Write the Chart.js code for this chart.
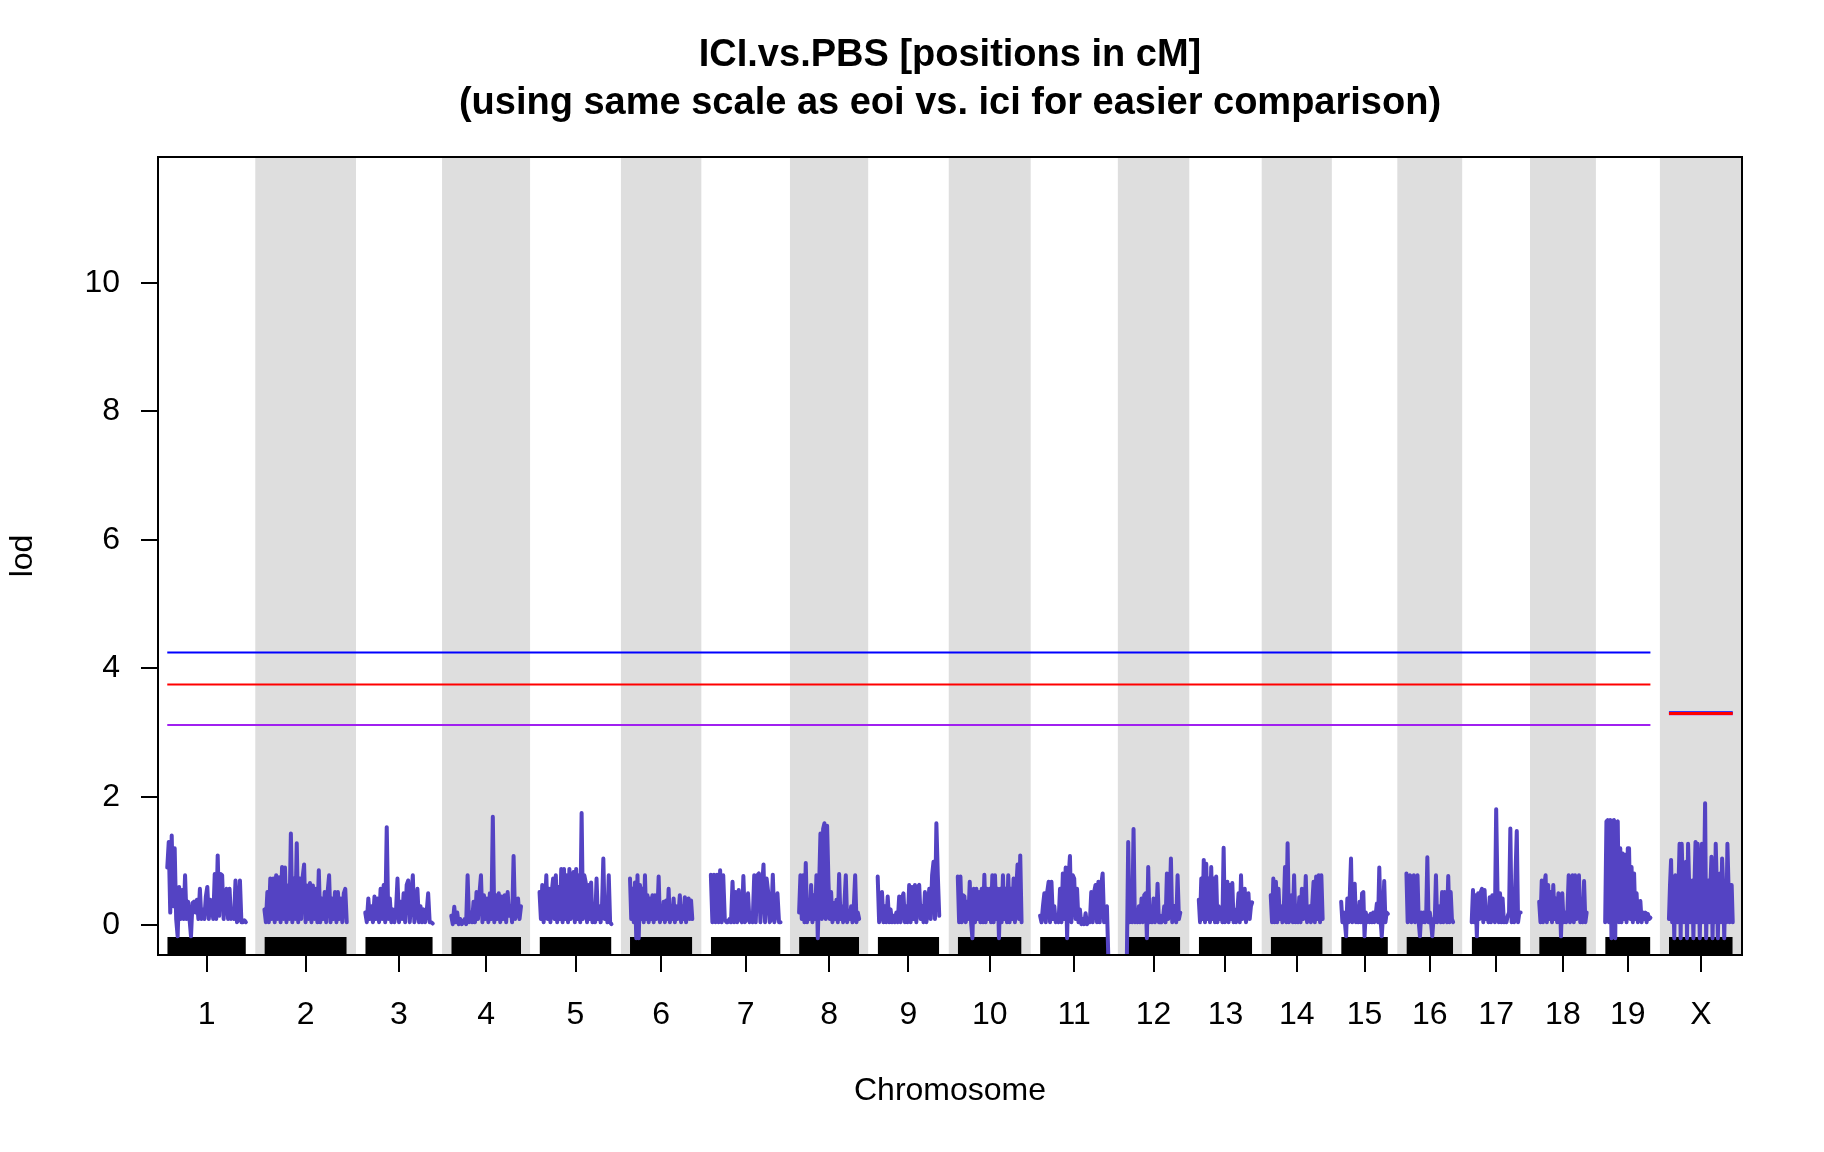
<!DOCTYPE html>
<html>
<head>
<meta charset="utf-8">
<script src="https://cdn.jsdelivr.net/npm/chart.js@4.4.0/dist/chart.umd.min.js"></script>
<style>
  html, body { margin: 0; padding: 0; background: #fff; }
  canvas { display: block; }
</style>
</head>
<body>
<canvas id="lod-chart" width="1824" height="1152" style="width:1824px;height:1152px"></canvas>
<script>
// chromosomes and their map lengths (cM)
var chrNames = ['1','2','3','4','5','6','7','8','9','10','11','12','13','14','15','16','17','18','19','X'];
var chrLengths = [106, 111, 91, 94, 97, 84, 94, 81, 83, 86, 92, 72, 72, 70, 63, 63, 66, 64, 61, 86];

// lod scores along each chromosome (read left to right, evenly spaced)
var lodChr1 = [0.9, 1.3, 0.2, 1.4, 0.3, 1.2, 0.1, -0.17, 0.6, 0.1, 0.55, 0.1, 0.78, 0.1, 0.37, 0.1, -0.17, 0.35, 0.37, 0.2, 0.4, 0.1, 0.57, 0.1, 0.25, 0.1, 0.45, 0.6, 0.1, 0.4, 0.3, 0.1, 0.8, 0.1, 1.09, 0.15, 0.8, 0.78, 0.1, 0.5, 0.57, 0.1, 0.57, 0.1, 0.15, 0.1, 0.7, 0.05, 0.1, 0.7, 0.05, 0.05, 0.08, 0.05];
var lodChr2 = [0.25, 0.05, 0.52, 0.05, 0.73, 0.1, 0.73, 0.05, 0.78, 0.1, 0.75, 0.05, 0.91, 0.1, 0.9, 0.05, 0.62, 0.1, 1.43, 0.05, 0.73, 0.1, 1.28, 0.05, 0.73, 0.1, 0.75, 0.95, 0.05, 0.62, 0.1, 0.66, 0.05, 0.62, 0.1, 0.57, 0.05, 0.86, 0.05, 0.42, 0.1, 0.52, 0.05, 0.52, 0.78, 0.05, 0.42, 0.1, 0.52, 0.05, 0.52, 0.1, 0.42, 0.05, 0.5, 0.57, 0.05];
var lodChr3 = [0.2, 0.05, 0.42, 0.1, 0.3, 0.05, 0.45, 0.1, 0.42, 0.05, 0.57, 0.1, 0.63, 0.05, 1.53, 0.1, 0.42, 0.05, 0.25, 0.05, 0.2, 0.73, 0.05, 0.37, 0.1, 0.5, 0.05, 0.63, 0.7, 0.05, 0.42, 0.78, 0.05, 0.2, 0.57, 0.05, 0.3, 0.05, 0.25, 0.05, 0.2, 0.5, 0.05, 0.05, 0.03];
var lodChr4 = [0.15, 0.02, 0.29, 0.05, 0.2, 0.02, 0.1, 0.02, 0.05, 0.1, 0.02, 0.78, 0.05, 0.2, 0.05, 0.37, 0.05, 0.52, 0.1, 0.5, 0.78, 0.05, 0.47, 0.1, 0.42, 0.05, 0.5, 0.1, 1.69, 0.05, 0.47, 0.1, 0.5, 0.05, 0.45, 0.1, 0.47, 0.05, 0.52, 0.15, 0.3, 0.05, 1.08, 0.1, 0.2, 0.42, 0.1, 0.3];
var lodChr5 = [0.52, 0.1, 0.63, 0.05, 0.3, 0.78, 0.1, 0.57, 0.05, 0.52, 0.73, 0.1, 0.78, 0.05, 0.6, 0.1, 0.88, 0.05, 0.88, 0.1, 0.78, 0.05, 0.88, 0.1, 0.57, 0.83, 0.05, 0.88, 0.1, 0.78, 0.05, 1.75, 0.1, 0.78, 0.67, 0.05, 0.63, 0.1, 0.67, 0.05, 0.3, 0.05, 0.73, 0.1, 0.3, 0.05, 0.28, 1.04, 0.1, 0.3, 0.05, 0.78, 0.05, 0.02];
var lodChr6 = [0.73, 0.1, 0.57, 0.05, 0.67, -0.2, 0.78, -0.2, 0.63, 0.1, 0.57, 0.05, 0.78, 0.1, 0.47, 0.05, 0.42, 0.1, 0.47, 0.05, 0.47, 0.1, 0.2, 0.76, 0.05, 0.3, 0.1, 0.37, 0.05, 0.39, 0.1, 0.57, 0.05, 0.3, 0.1, 0.42, 0.05, 0.3, 0.1, 0.2, 0.47, 0.05, 0.3, 0.1, 0.44, 0.05, 0.3, 0.42, 0.1, 0.39, 0.1];
var lodChr7 = [0.79, 0.05, 0.79, 0.05, 0.79, 0.05, 0.86, 0.05, 0.78, 0.1, 0.05, 0.05, 0.1, 0.05, 0.68, 0.05, 0.52, 0.05, 0.55, 0.1, 0.05, 0.77, 0.05, 0.1, 0.5, 0.05, 0.1, 0.05, 0.78, 0.05, 0.78, 0.81, 0.05, 0.57, 0.95, 0.05, 0.73, 0.52, 0.05, 0.1, 0.79, 0.05, 0.2, 0.5, 0.05, 0.05];
var lodChr8 = [0.2, 0.78, 0.1, 0.78, 0.05, 0.97, 0.05, 0.35, 0.1, 0.63, 0.05, 0.47, 0.1, 0.78, -0.2, 0.6, 1.43, 0.1, 1.5, 1.59, 0.1, 1.55, 0.68, 0.1, 0.52, 0.05, 0.35, 0.1, 0.4, 0.05, 0.8, 0.1, 0.3, 0.05, 0.35, 0.78, 0.05, 0.2, 0.1, 0.3, 0.05, 0.3, 0.78, 0.05, 0.2, 0.1];
var lodChr9 = [0.76, 0.05, 0.25, 0.52, 0.05, 0.3, 0.05, 0.45, 0.05, 0.25, 0.05, 0.15, 0.05, 0.2, 0.05, 0.45, 0.05, 0.42, 0.5, 0.05, 0.3, 0.05, 0.63, 0.05, 0.6, 0.1, 0.63, 0.05, 0.6, 0.63, 0.1, 0.3, 0.05, 0.52, 0.05, 0.2, 0.57, 0.1, 0.78, 0.99, 0.1, 1.59, 0.78, 0.15];
var lodChr10 = [0.76, 0.05, 0.76, 0.05, 0.47, 0.45, 0.05, 0.37, 0.1, 0.68, 0.05, -0.2, 0.57, 0.05, 0.57, 0.1, 0.52, 0.05, 0.57, 0.05, 0.79, 0.05, 0.57, 0.1, 0.57, 0.05, 0.78, 0.05, 0.78, 0.1, 0.57, -0.2, 0.57, 0.05, 0.78, 0.1, 0.57, 0.05, 0.78, 0.05, 0.57, 0.1, 0.73, 0.05, 0.57, 0.95, 0.1, 1.09, 0.05];
var lodChr11 = [0.15, 0.05, 0.3, 0.5, 0.05, 0.52, 0.68, 0.05, 0.68, 0.1, 0.3, 0.05, 0.1, 0.05, 0.57, 0.05, 0.81, 0.1, 0.9, -0.2, 0.73, 1.08, 0.05, 0.78, 0.73, 0.1, 0.57, 0.05, 0.25, 0.02, 0.1, 0.02, 0.19, 0.02, 0.1, 0.05, 0.52, 0.05, 0.52, 0.63, 0.05, 0.68, 0.05, 0.63, 0.81, 0.05, 0.2, 0.3, -0.5];
var lodChr12 = [-0.5, 1.3, 0.05, 0.2, 0.05, 1.5, 0.05, 0.1, 0.05, 0.3, 0.05, 0.42, 0.05, 0.47, 0.5, -0.2, 0.91, 0.05, 0.3, 0.05, 0.42, 0.05, 0.1, 0.65, 0.05, 0.15, 0.05, 0.1, 0.3, 0.05, 0.81, 0.1, 0.3, 1.04, 0.05, 0.25, 0.3, 0.05, 0.78, 0.1, 0.2];
var lodChr13 = [0.4, 0.05, 0.73, 0.1, 1.02, 0.05, 0.96, 0.1, 0.73, 0.05, 0.91, 0.1, 0.73, 0.05, 0.76, 0.05, 0.3, 0.1, 0.2, 0.05, 1.21, 0.05, 0.3, 0.68, 0.05, 0.63, 0.1, 0.66, 0.05, 0.25, 0.05, 0.2, 0.5, 0.05, 0.78, 0.1, 0.3, 0.57, 0.05, 0.2, 0.5, 0.1, 0.3, 0.36];
var lodChr14 = [0.47, 0.05, 0.73, 0.05, 0.68, 0.05, 0.57, 0.1, 0.3, 0.05, 0.2, 0.91, 0.05, 1.28, 0.05, 0.2, 0.47, 0.05, 0.78, 0.05, 0.2, 0.05, 0.44, 0.05, 0.57, 0.1, 0.2, 0.77, 0.05, 0.2, 0.3, 0.05, 0.34, 0.68, 0.05, 0.76, 0.1, 0.78, 0.05, 0.78, 0.1];
var lodChr15 = [0.37, 0.05, 0.2, 0.05, -0.17, 0.42, 0.05, 0.47, 1.04, 0.05, 0.57, 0.65, 0.05, 0.3, 0.05, 0.37, 0.05, 0.5, 0.52, -0.17, 0.2, 0.05, 0.15, 0.05, 0.18, 0.05, 0.2, 0.05, 0.15, 0.34, 0.05, 0.9, 0.1, -0.17, 0.15, 0.69, 0.05, 0.2, 0.18];
var lodChr16 = [0.81, 0.05, 0.73, 0.78, 0.05, 0.1, 0.78, 0.05, 0.1, 0.78, 0.05, -0.17, 0.2, 0.05, 0.2, 0.05, 0.1, 1.06, 0.05, 0.2, 0.05, -0.17, 0.1, 0.05, 0.78, 0.05, 0.1, 0.3, 0.05, 0.52, 0.05, 0.52, 0.1, 0.05, 0.77, 0.05, 0.52, 0.1, 0.05];
var lodChr17 = [0.05, 0.55, 0.05, 0.47, -0.17, 0.5, 0.1, 0.52, 0.57, 0.05, 0.55, 0.1, 0.2, 0.05, 0.44, 0.05, 0.47, 0.42, 0.05, 1.81, 0.57, 0.05, 0.5, 0.05, 0.42, 0.05, 0.1, 0.05, 0.15, 0.2, 1.51, 0.05, 0.2, 0.05, 0.78, 1.47, 0.05, 0.2, 0.2];
var lodChr18 = [0.37, 0.05, 0.7, 0.05, 0.63, 0.78, 0.05, 0.63, 0.1, 0.52, 0.05, 0.63, 0.1, 0.42, 0.05, 0.5, 0.47, -0.17, 0.5, 0.05, 0.2, 0.05, 0.2, 0.78, 0.05, 0.1, 0.78, 0.05, 0.78, 0.1, 0.2, 0.78, 0.05, 0.1, 0.05, 0.69, 0.05, 0.2];
var lodChr19 = [0.05, 1.62, 1.64, 0.05, 1.64, -0.2, 1.63, 1.64, -0.2, 1.6, 1.62, 0.05, 1.2, 0.05, 1.12, 0.1, 1.1, 0.05, 1.2, 1.2, 0.1, 0.91, 0.05, 0.81, 0.1, 0.5, 0.05, 0.2, 0.38, 0.05, 0.2, 0.1, 0.2, 0.05, 0.18, 0.1, 0.12];
var lodChrX = [0.1, 0.63, 1.02, 0.05, 0.63, -0.2, 0.78, 0.63, 0.05, 0.63, 1.27, -0.2, 1.27, 0.63, 0.05, 0.63, 0.99, -0.2, 1.27, 0.63, 0.05, 0.63, 0.7, -0.2, 0.63, 1.3, 0.05, 1.27, 0.63, -0.2, 0.7, 1.27, 0.05, 0.63, 1.9, -0.2, 0.63, 0.7, 0.05, 0.63, 1.07, -0.2, 0.63, 0.05, 1.27, 0.63, -0.2, 0.63, 0.81, 0.05, 1.04, 0.63, -0.2, 0.63, 0.05, 1.27, 0.63, 0.05, 0.63, 0.63, 0.05];

var lodByChr = [lodChr1, lodChr2, lodChr3, lodChr4, lodChr5, lodChr6, lodChr7, lodChr8, lodChr9, lodChr10,
                lodChr11, lodChr12, lodChr13, lodChr14, lodChr15, lodChr16, lodChr17, lodChr18, lodChr19, lodChrX];

// significance thresholds: autosomes, then X
var thrAuto = [4.25, 3.75, 3.12];
var thrX = [3.315, 3.30, 3.29];
var thrColors = ['#0000ff', '#ff0000', '#a020f0'];

var yTicks = [0, 2, 4, 6, 8, 10];
var yMin = -0.46, yMax = 11.96;
var gap = 25;

var titleLines = ['ICI.vs.PBS [positions in cM]', '(using same scale as eoi vs. ici for easier comparison)'];
var curveColor = '#5443c3';
var bandColor = '#dedede';

// chromosome start positions on the x axis
var starts = [];
var pos = gap / 2;
for (var i = 0; i < chrLengths.length; i++) {
  starts.push(pos);
  pos += chrLengths[i] + gap;
}
var xMax = pos - gap / 2;
var centers = starts.map(function (s, i) { return s + chrLengths[i] / 2; });

var datasets = [];

// grey bands behind every other chromosome
for (var i = 1; i < chrNames.length; i += 2) {
  var a = starts[i] - gap / 2;
  var b = Math.min(starts[i] + chrLengths[i] + gap / 2, xMax);
  datasets.push({
    data: [{x: a, y: yMax}, {x: b, y: yMax}],
    fill: 'start', backgroundColor: bandColor, borderWidth: 0,
    pointRadius: 0, order: 10
  });
}

// marker rug along the bottom
for (var i = 0; i < chrNames.length; i++) {
  datasets.push({
    data: [{x: starts[i], y: -0.18}, {x: starts[i] + chrLengths[i], y: -0.18}],
    fill: 'start', backgroundColor: '#000', borderWidth: 0,
    pointRadius: 0, order: 6
  });
}

// lod curves
for (var i = 0; i < chrNames.length; i++) {
  var vals = lodByChr[i];
  var pts = vals.map(function (v, j) {
    return {x: starts[i] + chrLengths[i] * j / (vals.length - 1), y: v};
  });
  datasets.push({
    data: pts, borderColor: curveColor, borderWidth: 4,
    borderJoinStyle: 'round', borderCapStyle: 'round',
    pointRadius: 0, fill: false, tension: 0, order: 3, clip: 0
  });
}

// threshold lines (red drawn last on X, so it sits on top)
var autoEnd = starts[18] + chrLengths[18];
var xStart = starts[19], xEnd = starts[19] + chrLengths[19];
thrAuto.forEach(function (t, k) {
  datasets.push({
    data: [{x: starts[0], y: t}, {x: autoEnd, y: t}],
    borderColor: thrColors[k], borderWidth: 2, pointRadius: 0, fill: false, order: 1
  });
});
thrX.forEach(function (t, k) {
  datasets.push({
    data: [{x: xStart, y: t}, {x: xEnd, y: t}],
    borderColor: thrColors[k], borderWidth: k === 1 ? 3 : 2.5, pointRadius: 0, fill: false,
    order: k === 1 ? 0 : 1
  });
});

// frame around the plot region, and the title centred over it
var framePlugin = {
  id: 'frame',
  afterDraw: function (chart) {
    var c = chart.ctx, a = chart.chartArea;
    c.save();
    c.strokeStyle = '#000';
    c.lineWidth = 2;
    c.strokeRect(a.left, a.top, a.right - a.left, a.bottom - a.top);
    c.fillStyle = '#000';
    c.font = 'bold 38px "Liberation Sans", Arial, sans-serif';
    c.textAlign = 'center';
    c.textBaseline = 'middle';
    var cx = (a.left + a.right) / 2;
    c.fillText(titleLines[0], cx, 56);
    c.fillText(titleLines[1], cx, 104);
    c.restore();
  }
};

Chart.defaults.font.family = '"Liberation Sans", Arial, sans-serif';
Chart.defaults.color = '#000';

var ctx = document.getElementById('lod-chart').getContext('2d');
var chart = new Chart(ctx, {
  type: 'line',
  data: { datasets: datasets },
  plugins: [framePlugin],
  options: {
    responsive: false,
    devicePixelRatio: 1,
    animation: false,
    layout: { padding: { left: 0, right: 82, top: 157, bottom: 0 } },
    plugins: {
      legend: { display: false },
      tooltip: { enabled: false },
      title: { display: false }
    },
    scales: {
      x: {
        type: 'linear',
        min: 0,
        max: xMax,
        afterBuildTicks: function (scale) {
          scale.ticks = centers.map(function (c) { return {value: c}; });
        },
        afterFit: function (scale) { scale.height = 197; },
        ticks: {
          autoSkip: false, maxRotation: 0, padding: 24,
          font: { size: 32 },
          callback: function (v, idx) { return chrNames[idx]; }
        },
        grid: { drawOnChartArea: false, drawTicks: true, tickLength: 17, color: '#000', lineWidth: 2 },
        border: { display: true, color: '#000', width: 2 },
        title: { display: true, text: 'Chromosome', font: { size: 32 }, padding: { top: 0, bottom: 42 } }
      },
      y: {
        type: 'linear',
        min: yMin,
        max: yMax,
        afterBuildTicks: function (scale) {
          scale.ticks = yTicks.map(function (v) { return {value: v}; });
        },
        afterFit: function (scale) { scale.width = 158; },
        ticks: { padding: 21, font: { size: 32 } },
        grid: { drawOnChartArea: false, drawTicks: true, tickLength: 17, color: '#000', lineWidth: 2 },
        border: { display: true, color: '#000', width: 2 },
        title: { display: true, text: 'lod', font: { size: 32 }, padding: { top: 4, bottom: 0 } }
      }
    }
  }
});
</script>
</body>
</html>
